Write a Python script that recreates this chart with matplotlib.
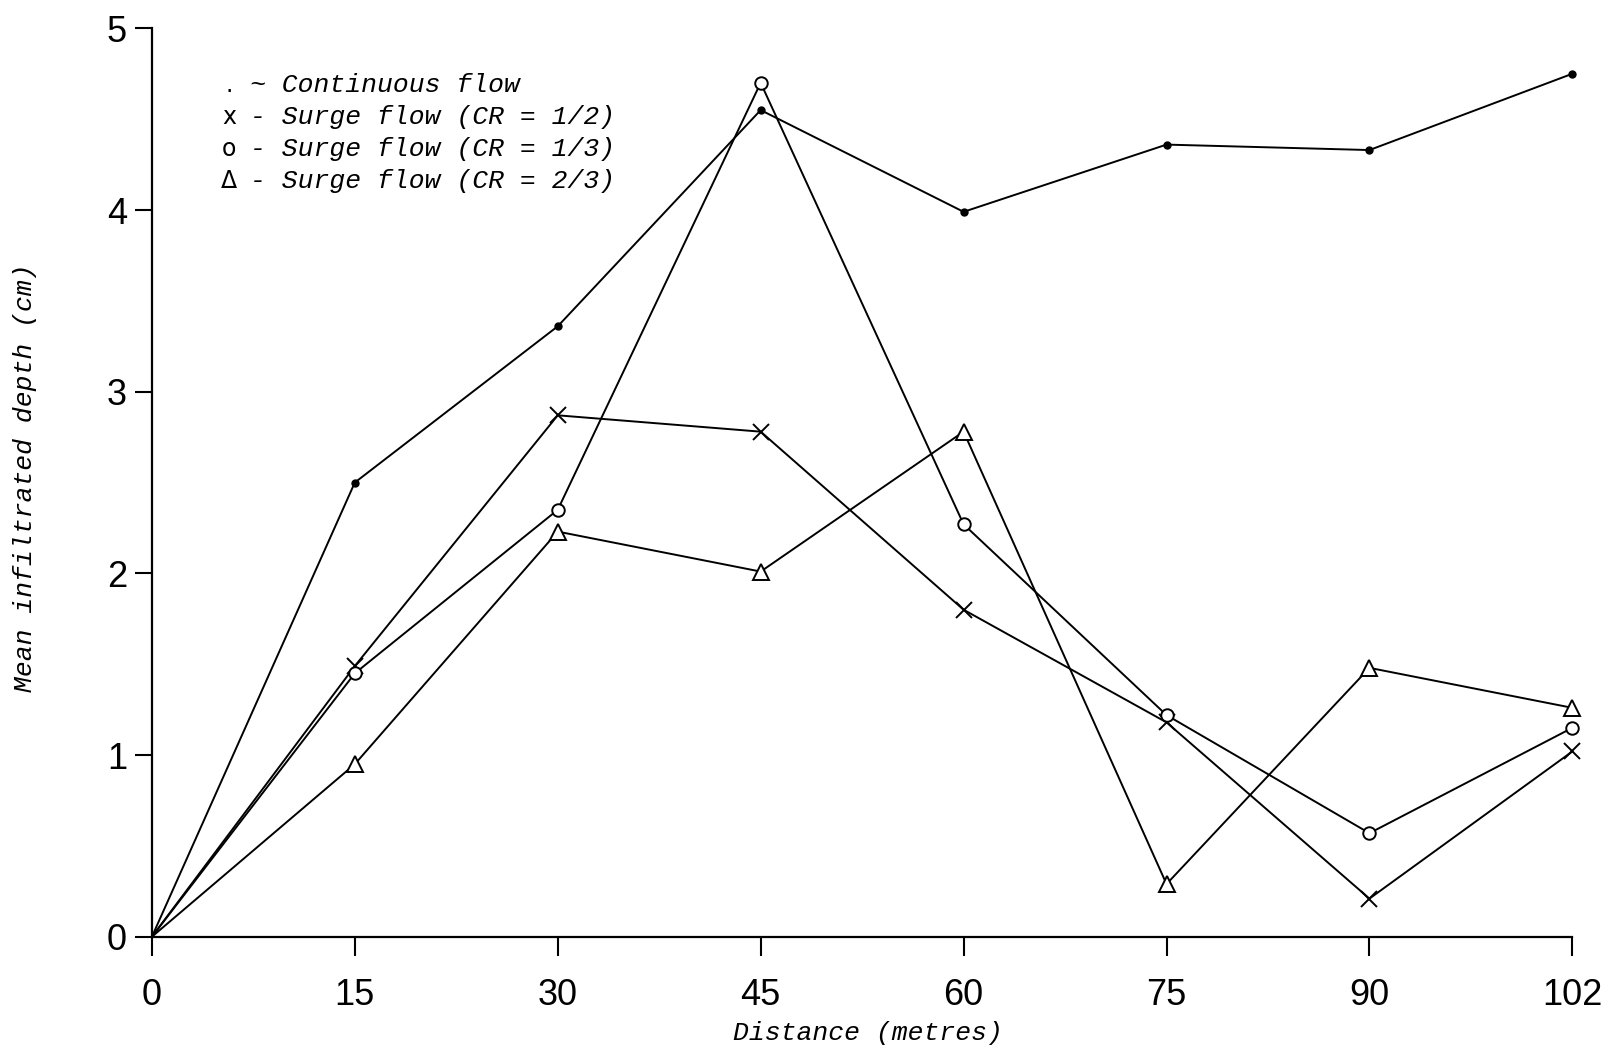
import numpy as np
import matplotlib
matplotlib.use("Agg")
import matplotlib.pyplot as plt

# ===== DATA =====
# Distance along the furrow (metres) and mean infiltrated depth (cm)
distances = [0, 15, 30, 45, 60, 75, 90, 102]
continuous = [0, 2.50, 3.36, 4.55, 3.99, 4.36, 4.33, 4.75]
surge_half = [0, 1.49, 2.87, 2.78, 1.80, 1.18, 0.21, 1.02]
surge_third = [0, 1.45, 2.35, 4.70, 2.27, 1.22, 0.57, 1.15]
surge_two_thirds = [0, 0.95, 2.23, 2.01, 2.78, 0.29, 1.48, 1.26]

y_ticks = [0, 1, 2, 3, 4, 5]

legend_symbols = [".", "x", "o", "\u0394"]
legend_labels = [
    "~ Continuous flow",
    "- Surge flow (CR = 1/2)",
    "- Surge flow (CR = 1/3)",
    "- Surge flow (CR = 2/3)",
]

W, H = 1616, 1049
mono = ["Liberation Mono", "DejaVu Sans Mono"]

fig = plt.figure(figsize=(W / 100, H / 100), dpi=100)
ax = fig.add_axes([0.094, 0.107, 0.879, 0.866])

# stations are plotted at equal spacing, the last one (102 m) included
pos = np.arange(len(distances))

# all curves start from the origin, which carries no marker
line_kw = dict(color="black", linewidth=1.4, clip_on=False, markevery=slice(1, None))
ax.plot(pos, continuous, marker="o", markersize=5, markerfacecolor="black", **line_kw)
ax.plot(pos, surge_half, marker="x", markersize=11, markeredgewidth=1.4, **line_kw)
ax.plot(pos, surge_third, marker="o", markersize=9, markerfacecolor="white",
        markeredgewidth=1.4, **line_kw)
ax.plot(pos, surge_two_thirds, marker="^", markersize=11, markerfacecolor="white",
        markeredgewidth=1.4, **line_kw)

ax.set_xlim(0, len(distances) - 1)
ax.set_ylim(0, 5)

for side in ["top", "right"]:
    ax.spines[side].set_visible(False)
for side in ["left", "bottom"]:
    ax.spines[side].set_linewidth(1.6)

ax.set_xticks(pos)
ax.set_xticklabels([str(d) for d in distances])
ax.set_yticks(y_ticks)
ax.set_yticklabels([str(v) for v in y_ticks])
ax.tick_params(axis="both", direction="out", width=1.5, labelsize=26)
ax.tick_params(axis="x", length=14, pad=16)
ax.tick_params(axis="y", length=12, pad=6)
for lbl in ax.get_xticklabels() + ax.get_yticklabels():
    lbl.set_fontfamily(["Liberation Sans", "DejaVu Sans"])

ax.set_xlabel("Distance (metres)", fontfamily=mono, fontstyle="italic", fontsize=19)
ax.xaxis.set_label_coords(0.504, -0.106)
ax.xaxis.label.set_va("center")
ax.set_ylabel("Mean infiltrated depth (cm)", fontfamily=mono, fontstyle="italic", fontsize=19)
ax.yaxis.set_label_coords(-0.089, 0.505)
ax.yaxis.label.set_va("center")

# hand-written style key in the upper left corner
row_y = [85, 117, 149, 181]
for sym, text, y in zip(legend_symbols, legend_labels, row_y):
    fig.text(229 / W, 1 - y / H, sym, ha="center", va="center", fontsize=17,
             fontfamily=["DejaVu Sans"])
    fig.text(250 / W, 1 - y / H, text, ha="left", va="center", fontsize=19,
             fontfamily=mono, fontstyle="italic")

fig.savefig("out.png", dpi=100)
